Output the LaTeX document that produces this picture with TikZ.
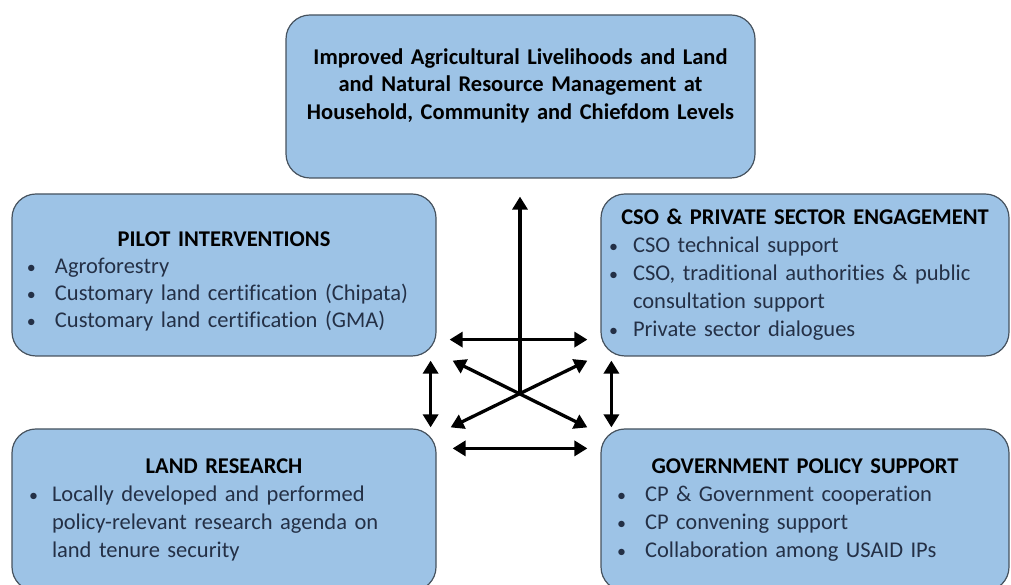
\documentclass[tikz,border=0pt]{standalone}
\usepackage{fontspec}
\setmainfont{Carlito}[Ligatures = NoCommon]
\usetikzlibrary{arrows.meta}
\definecolor{boxblue}{HTML}{9DC3E6}
\definecolor{boxline}{HTML}{46525E}
\definecolor{bodytext}{HTML}{243046}
\newcommand{\bul}[2][26pt]{\makebox[#1][l]{{\fontsize{18}{18}\selectfont\textbullet}}#2}
\newcommand{\bcont}[2][26pt]{\hspace*{#1}#2}
\newcommand{\boxtitle}[1]{\makebox[\linewidth][c]{\bfseries\color{black}#1}}

\begin{document}
\begin{tikzpicture}[x = 1pt, y = 1pt,
                      box/.style = {draw = boxline, line width = 1.2pt, fill = boxblue, rounded corners = 24pt,
                                    align = left, inner ysep = 0pt, text = bodytext, minimum height = 162pt,
                                    font = \fontsize{22.5}{28}\selectfont},
                      link/.style = {line width = 3.3pt, {Triangle[length=13pt, width=15pt]}-{Triangle[length=13pt, width=15pt]}},
                      uplink/.style = {line width = 3.3pt, -{Triangle[length=13pt, width=15pt]}}]
    \useasboundingbox (0, 0) rectangle (1011, 585);

    \node [box, align = center, text = black, inner xsep = 10pt, text width = 449pt, minimum height = 163pt,
           font = \fontsize{22.5}{27.5}\selectfont\bfseries] (goal) at (520.5, 488.5)
        {Improved Agricultural Livelihoods and Land\\
         and Natural Resource Management at\\
         Household, Community and Chiefdom Levels\rule[-25pt]{0pt}{0pt}};

    \node [box, inner xsep = 15pt, text width = 394pt, font = \fontsize{22.5}{27}\selectfont] (pilot) at (224, 310)
        {\rule{0pt}{28pt}\boxtitle{PILOT INTERVENTIONS}\\
         \bul[28pt]{Agroforestry}\\
         \bul[28pt]{Customary land certification (Chipata)}\\
         \bul[28pt]{Customary land certification (GMA)}};

    \node [box, inner xsep = 8pt, text width = 392pt] (cso) at (805, 310)
        {\boxtitle{CSO \& PRIVATE SECTOR ENGAGEMENT}\\
         \bul[24pt]{CSO technical support}\\
         \bul[24pt]{CSO, traditional authorities \& public}\\
         \bcont[24pt]{consultation support}\\
         \bul[24pt]{Private sector dialogues}};

    \node [box, inner xsep = 17pt, text width = 390pt] (research) at (224, 75)
        {\boxtitle{LAND RESEARCH}\\
         \bul[23pt]{Locally developed and performed}\\
         \bcont[23pt]{policy-relevant research agenda on}\\
         \bcont[23pt]{land tenure security}};

    \node [box, inner xsep = 16pt, text width = 376pt] (policy) at (805, 75)
        {\boxtitle{GOVERNMENT POLICY SUPPORT}\\
         \bul[28pt]{CP \& Government cooperation}\\
         \bul[28pt]{CP convening support}\\
         \bul[28pt]{Collaboration among USAID IPs}};

    \coordinate (hub) at (520, 191);
    \draw [uplink, shorten > = 18pt] (hub) -- (hub |- goal.south);

    \draw [link] ([shift={(13,17)}]pilot.south east) -- ([shift={(-13,17)}]cso.south west);
    \draw [link] ([shift={(16,-20)}]research.north east) -- ([shift={(-13,-20)}]policy.north west);
    \draw [link] ([shift={(16,-4)}]pilot.south east) -- ([shift={(-13,1)}]policy.north west);
    \draw [link] ([shift={(14,1)}]research.north east) -- ([shift={(-13,-4)}]cso.south west);
    \draw [link] ([shift={(-6,-4)}]pilot.south east) -- ([shift={(-6,1)}]research.north east);
    \draw [link] ([shift={(11,-4)}]cso.south west) -- ([shift={(11,1)}]policy.north west);
\end{tikzpicture}
\end{document}
